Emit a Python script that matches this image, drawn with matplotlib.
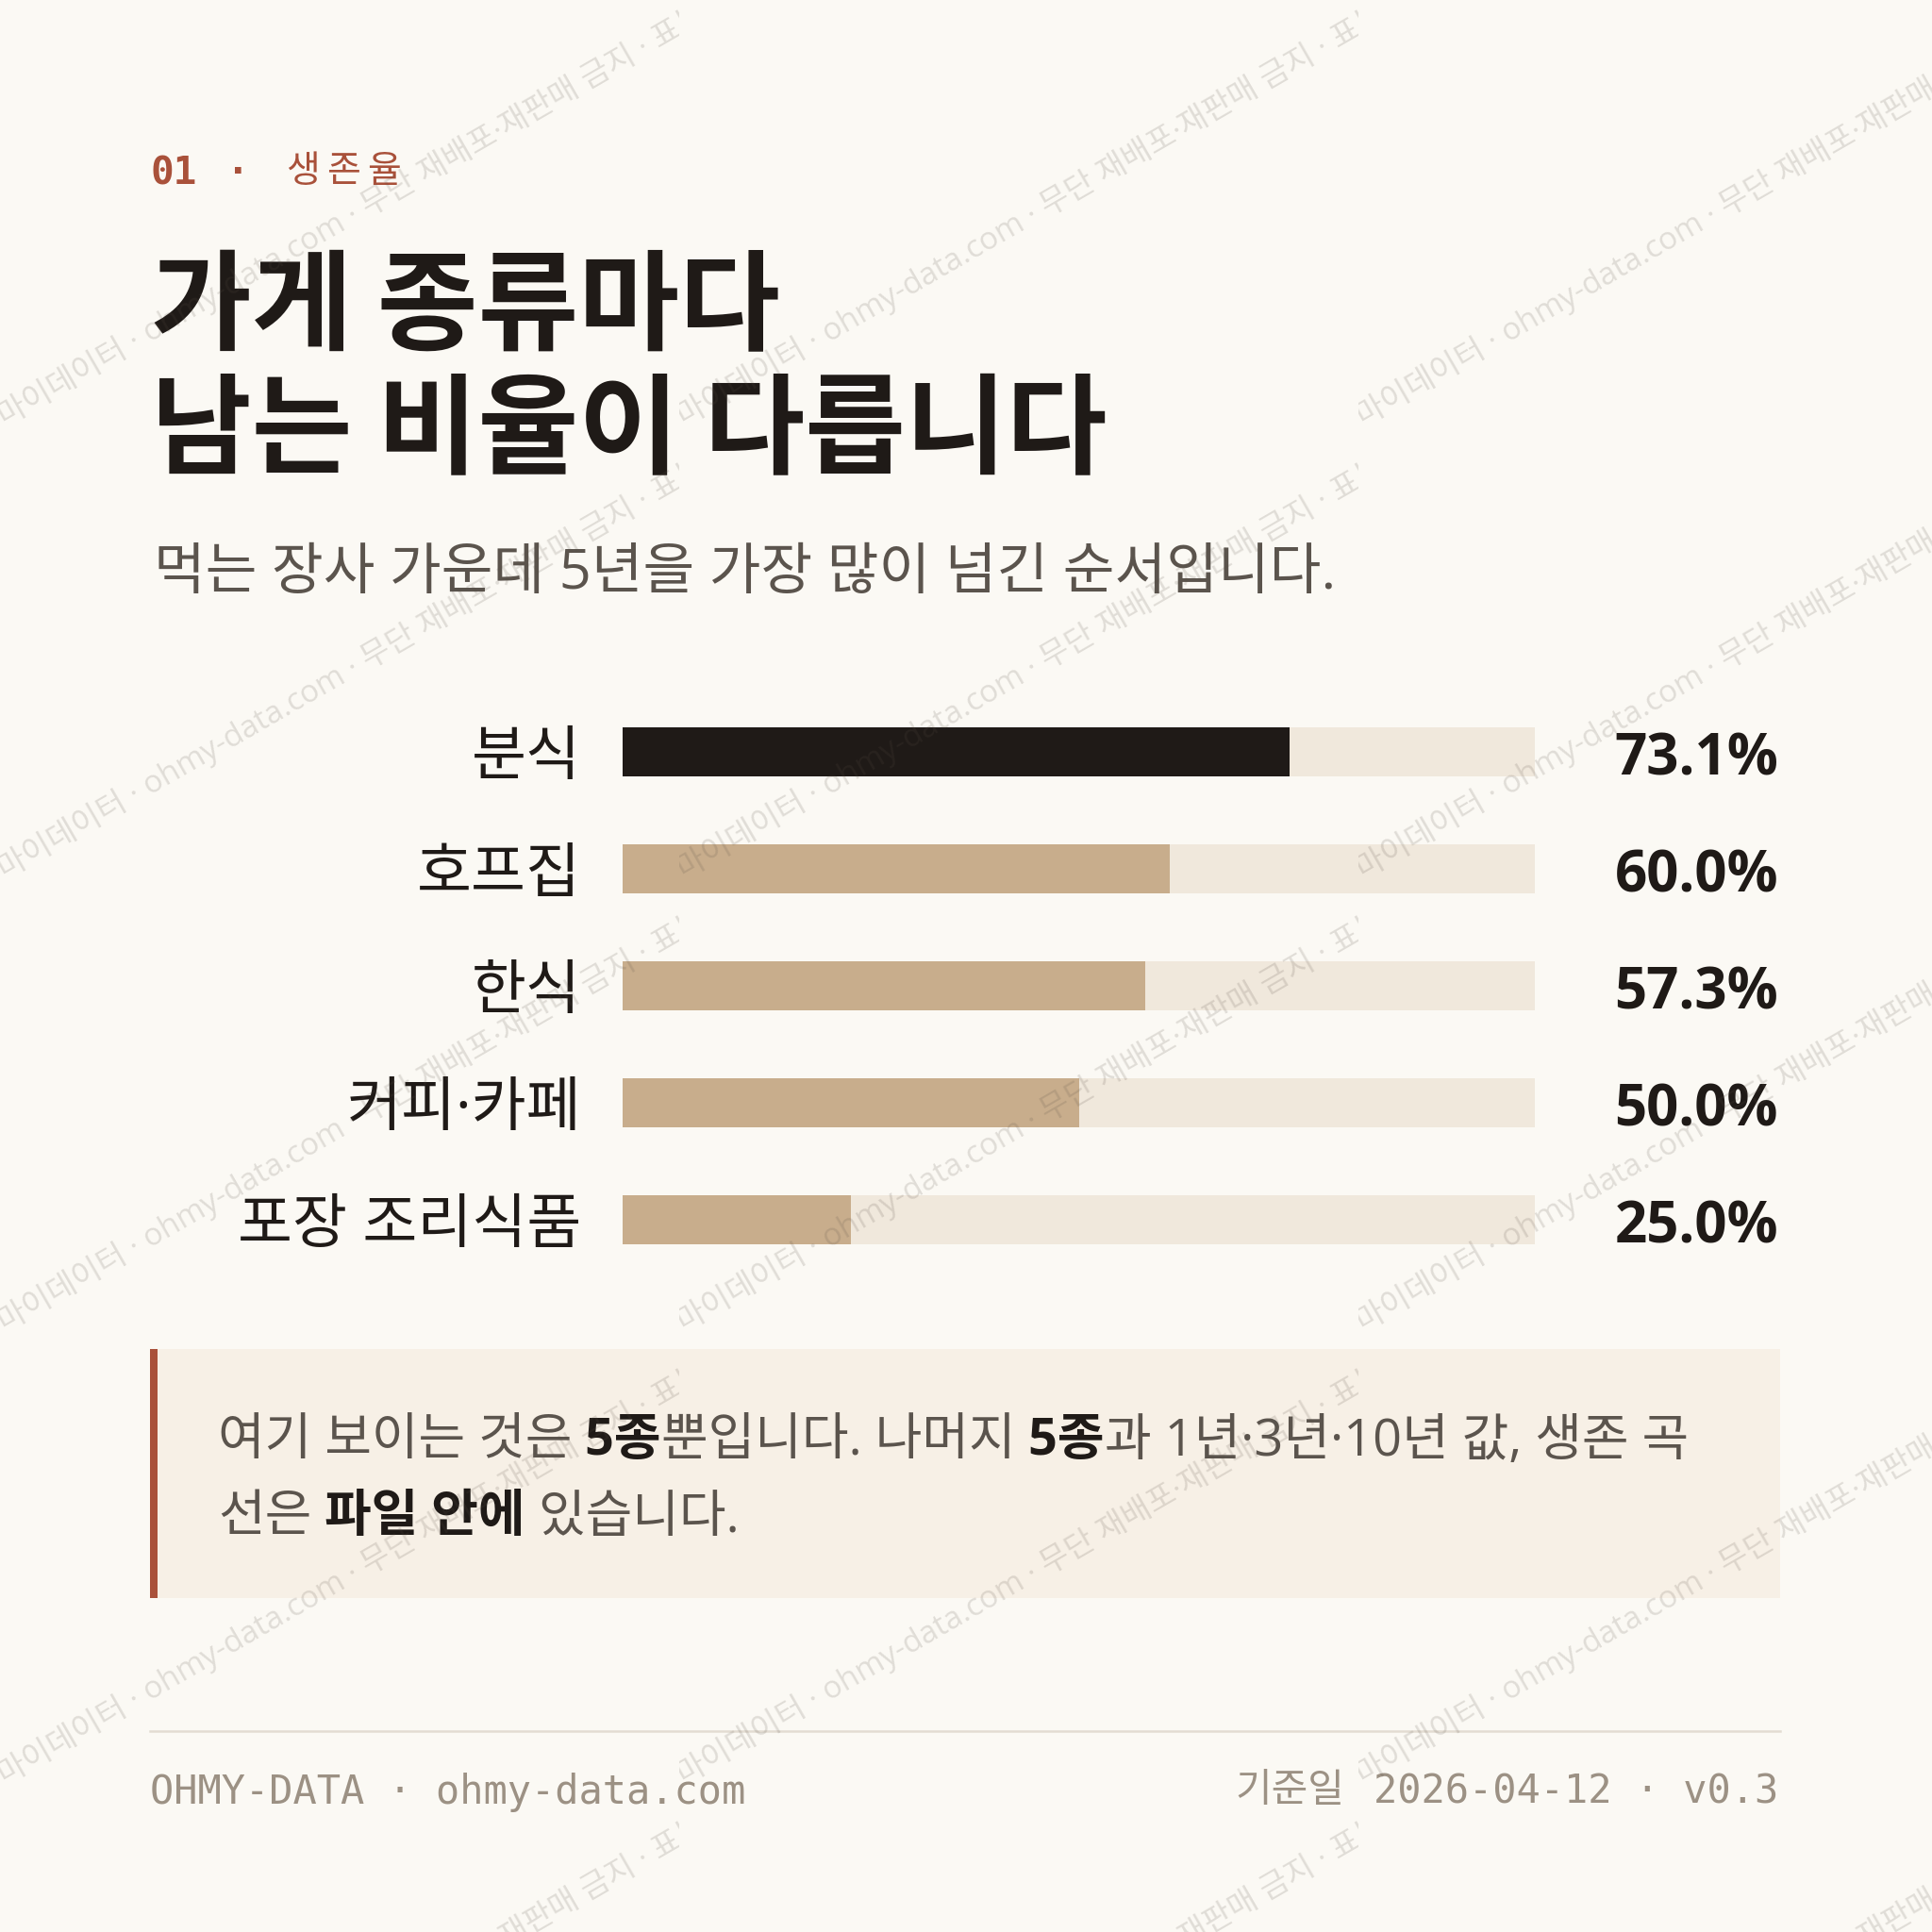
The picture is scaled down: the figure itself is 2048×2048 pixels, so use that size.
import matplotlib
matplotlib.use("Agg")
import matplotlib.pyplot as plt
from matplotlib.patches import Rectangle
from matplotlib.transforms import Bbox

# data
categories = ["분식", "호프집", "한식", "커피·카페", "포장 조리식품"]
survival_5y = [73.1, 60.0, 57.3, 50.0, 25.0]
highlight = "분식"

kicker_num = "01"
kicker_txt = "생존율"
title_lines = ["가게 종류마다", "남는 비율이 다릅니다"]
subtitle = "먹는 장사 가운데 5년을 가장 많이 넘긴 순서입니다."
note_lines = [
    [("여기 보이는 것은", False), (" 5종", True), ("뿐입니다. 나머지", False),
     (" 5종", True), ("과 1년·3년·10년 값, 생존 곡", False)],
    [("선은", False), (" 파일 안에", True), (" 있습니다.", False)],
]
footer_left = "OHMY-DATA · ohmy-data.com"
footer_date_label = "기준일"
footer_date = "2026-04-12 · v0.3"
watermark = "마이데이터 · ohmy-data.com · 무단 재배포·재판매 금지 · 표본 데이터"

# style
BG = "#FBF9F4"
RUST = "#A9513A"
DARK = "#1F1A17"
TAN = "#C8AD8C"
TRACK = "#F0E8DC"
GRAY = "#5B544D"
NOTE_BG = "#F7F0E6"
FOOT = "#9C9184"
RULE = "#E3DCD2"
KR = ["Noto Sans CJK KR", "DejaVu Sans"]
BODY = ["Open Sans", "Noto Sans CJK KR", "DejaVu Sans"]
MONO = ["DejaVu Sans Mono", "Noto Sans CJK KR"]

W = 2048
DPI = 200


def pt(px):
    return px * 72 / DPI


plt.rcParams["font.family"] = BODY

fig = plt.figure(figsize=(W / DPI, W / DPI), dpi=DPI, facecolor=BG)

# bar chart
bx = fig.add_axes([660 / W, 1 - 1355 / W, 967 / W, 620 / W], zorder=1)
bx.patch.set_alpha(0)
ypos = list(range(len(categories)))
bx.barh(ypos, [100] * len(categories), height=0.42, color=TRACK)
bx.barh(ypos, survival_5y, height=0.42,
        color=[DARK if c == highlight else TAN for c in categories])
bx.set_xlim(0, 100)
bx.set_ylim(len(categories) - 0.5, -0.5)
for s in bx.spines.values():
    s.set_visible(False)
bx.set_xticks([])
bx.set_yticks(ypos)
bx.set_yticklabels(categories, fontsize=pt(63), color=DARK)
bx.tick_params(axis="y", length=0, pad=pt(44))
for y, v in zip(ypos, survival_5y):
    bx.annotate(f"{v:.1f}%", xy=(1, y), xycoords=("axes fraction", "data"),
                xytext=(pt(258), pt(-9)), textcoords="offset points",
                ha="right", va="center", fontsize=pt(60), fontweight="bold",
                color=DARK)

# overlay in pixel coordinates
ov = fig.add_axes([0, 0, 1, 1], zorder=3)
ov.set_xlim(0, W)
ov.set_ylim(W, 0)
ov.axis("off")
ov.patch.set_alpha(0)

# kicker
ov.text(159, 184, kicker_num, family=MONO, fontweight="bold", fontsize=pt(41),
        color=RUST, va="center")
ov.text(252, 184, "·", family=MONO, fontweight="bold", fontsize=pt(41),
        color=RUST, va="center", ha="center")
for k, ch in enumerate(kicker_txt):
    ov.text(303 + 43 * k, 182, ch, family=KR, fontsize=pt(39), color=RUST,
            va="center")

# title and subtitle
ov.text(160, 328, title_lines[0], family=KR, fontsize=pt(116),
        fontweight="bold", color=DARK, va="center")
ov.text(160, 458, title_lines[1], family=KR, fontsize=pt(116),
        fontweight="bold", color=DARK, va="center")
ov.text(163, 609, subtitle, fontsize=pt(59.5), color=GRAY, va="center")

# note box
ov.add_patch(Rectangle((159, 1430), 1728, 264, facecolor=NOTE_BG,
                       edgecolor="none", zorder=1))
ov.add_patch(Rectangle((159, 1430), 8, 264, facecolor=RUST,
                       edgecolor="none", zorder=2))
renderer = fig.canvas.get_renderer()
for line, ly in zip(note_lines, [1528, 1609]):
    x = 231
    for txt, bold in line:
        t = ov.text(x, ly, txt, fontsize=pt(54), va="center", zorder=3,
                    fontweight="bold" if bold else "normal",
                    color=DARK if bold else GRAY)
        x += t.get_window_extent(renderer).width

# footer
ov.plot([159, 1887], [1835, 1835], color=RULE, lw=pt(2.5))
ov.text(159, 1900, footer_left, family=MONO, fontsize=pt(42), color=FOOT,
        va="center")
td = ov.text(1885, 1900, footer_date, family=MONO, fontsize=pt(42),
             color=FOOT, va="center", ha="right")
wd = td.get_window_extent(renderer).width
ov.text(1885 - wd - 30, 1898, footer_date_label, family=KR, fontsize=pt(42),
        color=FOOT, va="center", ha="right")

# watermark tiles, each clipped to its own 720x480 cell
for i in range(3):
    for j in range(5):
        wt = ov.text(i * 720 + 5, j * 480 + 452, watermark, fontsize=pt(33),
                     color="#5A5046", alpha=0.17, rotation=30,
                     rotation_mode="anchor", ha="left", va="baseline",
                     zorder=10)
        wt.set_clip_on(True)
        wt.set_clip_path(None)
        wt.set_clip_box(Bbox.from_extents(i * 720, W - (j + 1) * 480,
                                          (i + 1) * 720, W - j * 480))

fig.savefig("out.png", dpi=DPI, facecolor=BG)
